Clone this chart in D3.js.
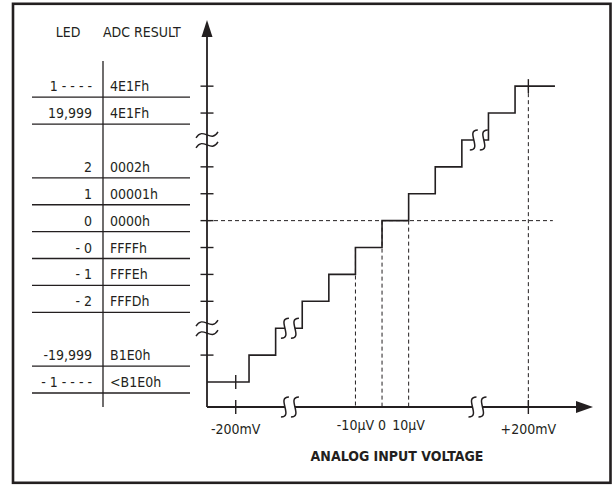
<!DOCTYPE html>
<html>
<head>
<meta charset="utf-8">
<script src="https://cdn.jsdelivr.net/npm/d3@7"></script>
<style>
	body { margin: 0; background: #fff; }
	text { font-family: "Liberation Sans Narrow", "DejaVu Sans Condensed", "Arial Narrow", sans-serif; fill: #231f20; }
</style>
</head>
<body>
<svg id="chart" width="614" height="486"></svg>
<script>
// ADC transfer function: output code vs analog input voltage

//=================== DATA ====================================
// code levels (0 = bottom step, 11 = top step)
var ledLabels = ["- 1 - - - -", "-19,999", "", "- 2", "- 1", "- 0", "0", "1", "2", "", "19,999", "1 - - - -"];
var adcCodes  = ["<B1E0h", "B1E0h", "", "FFFDh", "FFFEh", "FFFFh", "0000h", "00001h", "0002h", "", "4E1Fh", "4E1Fh"];
// levels that get a ruled line under them in the table and a tick on the y axis
var tableRuledLevels = [11, 10, 8, 7, 6, 5, 4, 3, 1, 0];
var yTickLevels = [11, 10, 8, 7, 6, 5, 4, 3, 1];
var yBreakLevels = [9, 2];

// staircase: input (in LSB steps, 0 = 0V) where the code changes, and the code after it
var stepInputs = [-6.58, -5, -4, -3, -2, -1, 0, 1, 2, 3, 4, 5, 6.5];
var stepLevels = [0, 1, 2, 3, 4, 5, 6, 7, 8, 9, 10, 11, 11];
var stairBreaks = [{x: -3.5, lvl: 2}, {x: 3.6, lvl: 9}];
var xAxisBreaks = [-3.5, 3.55];

// x axis labels
var xTickInputs = [-5.5, -1, 0, 1, 5.5];
var xTickLabels = ["-200mV", "-10\u00b5V", "0", "10\u00b5V", "+200mV"];
var xTickMarks = [-5.5, 5.5];
// dashed verticals: input and the level they start at
var dashInputs = [-1, 0, 1, 5.5];
var dashLevels = [5, 6, 6, 11];

//=================== SETUP ====================================
var ink = "#231f20";
var svg = d3.select("#chart");

var x = d3.scaleLinear().domain([-6.58, 7.93]).range([207, 593]);
var y = d3.scaleLinear().domain([-0.93, 13.46]).range([407, 20]);

// outer frame
svg.append("rect")
	.attr("x", 13).attr("y", 3.8)
	.attr("width", 597.5).attr("height", 479)
	.attr("fill", "none").attr("stroke", ink).attr("stroke-width", 2.6);

//=================== TABLE ====================================
var table = svg.append("g");

table.append("text").attr("x", 68).attr("y", 37).attr("text-anchor", "middle")
	.style("font-size", "14px").text("LED");
table.append("text").attr("x", 103).attr("y", 37)
	.style("font-size", "14px").text("ADC RESULT");

table.append("line")
	.attr("x1", 103).attr("x2", 103).attr("y1", 61).attr("y2", y(-0.93))
	.attr("stroke", ink).attr("stroke-width", 1.3);

table.selectAll("line.rule")
	.data(tableRuledLevels)
	.enter().append("line")
	.attr("class", "rule")
	.attr("x1", 32).attr("x2", 190)
	.attr("y1", function(d){ return y(d) + 11; })
	.attr("y2", function(d){ return y(d) + 11; })
	.attr("stroke", ink).attr("stroke-width", 1.3);

table.selectAll("text.led")
	.data(ledLabels)
	.enter().append("text")
	.attr("class", "led")
	.attr("x", 92)
	.attr("y", function(d, i){ return y(i) + 5; })
	.attr("text-anchor", "end")
	.style("font-size", "14px")
	.text(function(d){ return d; });

table.selectAll("text.adc")
	.data(adcCodes)
	.enter().append("text")
	.attr("class", "adc")
	.attr("x", 110)
	.attr("y", function(d, i){ return y(i) + 5; })
	.style("font-size", "14px")
	.text(function(d){ return d; });

//=================== GUIDES ====================================
var guides = svg.append("g")
	.attr("stroke", ink).attr("stroke-width", 1).attr("stroke-dasharray", "4,3").attr("fill", "none");

guides.append("line")
	.attr("x1", x.range()[0]).attr("x2", x(6.42))
	.attr("y1", y(6)).attr("y2", y(6));

guides.selectAll("line.v")
	.data(dashInputs)
	.enter().append("line")
	.attr("class", "v")
	.attr("x1", function(d){ return x(d); })
	.attr("x2", function(d){ return x(d); })
	.attr("y1", function(d, i){ return y(dashLevels[i]); })
	.attr("y2", y.range()[0]);

//=================== STAIRCASE ====================================
var stairLine = d3.line()
	.x(function(d){ return x(d[0]); })
	.y(function(d){ return y(d[1]); })
	.curve(d3.curveStepAfter);

svg.append("path")
	.datum(d3.zip(stepInputs, stepLevels))
	.attr("d", stairLine)
	.attr("fill", "none").attr("stroke", ink).attr("stroke-width", 1.6);

// small crosses on the end steps
svg.selectAll("line.cross")
	.data([{x: -5.5, lvl: 0}, {x: 5.5, lvl: 11}])
	.enter().append("line")
	.attr("class", "cross")
	.attr("x1", function(d){ return x(d.x); })
	.attr("x2", function(d){ return x(d.x); })
	.attr("y1", function(d){ return y(d.lvl) - 7; })
	.attr("y2", function(d){ return y(d.lvl) + 7; })
	.attr("stroke", ink).attr("stroke-width", 1.4);

//=================== AXES ====================================
var axes = svg.append("g").attr("stroke", ink).attr("fill", "none");

axes.append("line")
	.attr("x1", x.range()[0]).attr("x2", x.range()[0])
	.attr("y1", y.range()[0]).attr("y2", y.range()[1] + 12)
	.attr("stroke-width", 1.8);
axes.append("line")
	.attr("x1", x.range()[0]).attr("x2", x.range()[1] - 12)
	.attr("y1", y.range()[0]).attr("y2", y.range()[0])
	.attr("stroke-width", 1.8);

// arrow heads
svg.append("path")
	.attr("d", d3.line()([[x.range()[0], y.range()[1]], [x.range()[0] - 5.5, y.range()[1] + 17], [x.range()[0] + 5.5, y.range()[1] + 17]]) + "Z")
	.attr("fill", ink);
svg.append("path")
	.attr("d", d3.line()([[x.range()[1], y.range()[0]], [x.range()[1] - 17, y.range()[0] - 6], [x.range()[1] - 17, y.range()[0] + 6]]) + "Z")
	.attr("fill", ink);

axes.selectAll("line.ytick")
	.data(yTickLevels)
	.enter().append("line")
	.attr("class", "ytick")
	.attr("x1", x.range()[0] - 6.5).attr("x2", x.range()[0] + 6.5)
	.attr("y1", function(d){ return y(d); })
	.attr("y2", function(d){ return y(d); })
	.attr("stroke-width", 1.4);

axes.selectAll("line.xtick")
	.data(xTickMarks)
	.enter().append("line")
	.attr("class", "xtick")
	.attr("x1", function(d){ return x(d); })
	.attr("x2", function(d){ return x(d); })
	.attr("y1", y.range()[0] - 7).attr("y2", y.range()[0] + 7)
	.attr("stroke-width", 1.4);

svg.selectAll("text.xlab")
	.data(xTickLabels)
	.enter().append("text")
	.attr("class", "xlab")
	.attr("x", function(d, i){ return x(xTickInputs[i]); })
	.attr("y", function(d, i){ return (i >= 1 && i <= 3) ? 430 : 434; })
	.attr("text-anchor", "middle")
	.style("font-size", "14px")
	.text(function(d){ return d; });

svg.append("text")
	.attr("x", 397).attr("y", 461)
	.attr("text-anchor", "middle")
	.style("font-size", "14px").style("font-weight", "bold")
	.text("ANALOG INPUT VOLTAGE");

//=================== BREAK MARKS ====================================
// two S curves, with the gap between them blanked out
function sBreak(cx, cy){
	var g = svg.append("g");
	var s = function(dx){
		return "M" + (cx + dx + 4) + "," + (cy - 10) +
			"C" + (cx + dx - 9) + "," + (cy - 10) + " " + (cx + dx + 9) + "," + (cy + 10) + " " + (cx + dx - 4) + "," + (cy + 10);
	};
	var mask = "M" + cx + "," + (cy - 10) +
		"C" + (cx - 13) + "," + (cy - 10) + " " + (cx + 5) + "," + (cy + 10) + " " + (cx - 8) + "," + (cy + 10) +
		"L" + (cx + 2) + "," + (cy + 10) +
		"C" + (cx + 15) + "," + (cy + 10) + " " + (cx - 3) + "," + (cy - 10) + " " + (cx + 10) + "," + (cy - 10) + "Z";
	g.append("path").attr("d", mask).attr("fill", "#fff").attr("stroke", "none");
	g.append("path").attr("d", s(-4)).attr("fill", "none").attr("stroke", ink).attr("stroke-width", 1.5);
	g.append("path").attr("d", s(6)).attr("fill", "none").attr("stroke", ink).attr("stroke-width", 1.5);
}

// axis break on y: two tilde curves across the axis
function tildeBreak(cx, cy){
	[-5, 5].forEach(function(dy){
		svg.append("path")
			.attr("d", "M" + (cx - 11) + "," + (cy + dy + 3) +
				"C" + (cx - 4) + "," + (cy + dy - 9) + " " + (cx + 4) + "," + (cy + dy + 9) + " " + (cx + 11) + "," + (cy + dy - 3))
			.attr("fill", "none").attr("stroke", ink).attr("stroke-width", 1.4);
	});
}

xAxisBreaks.forEach(function(d){ sBreak(x(d), y.range()[0]); });
stairBreaks.forEach(function(d){ sBreak(x(d.x), y(d.lvl)); });
yBreakLevels.forEach(function(d){ tildeBreak(x.range()[0], y(d)); });

</script>
</body>
</html>
